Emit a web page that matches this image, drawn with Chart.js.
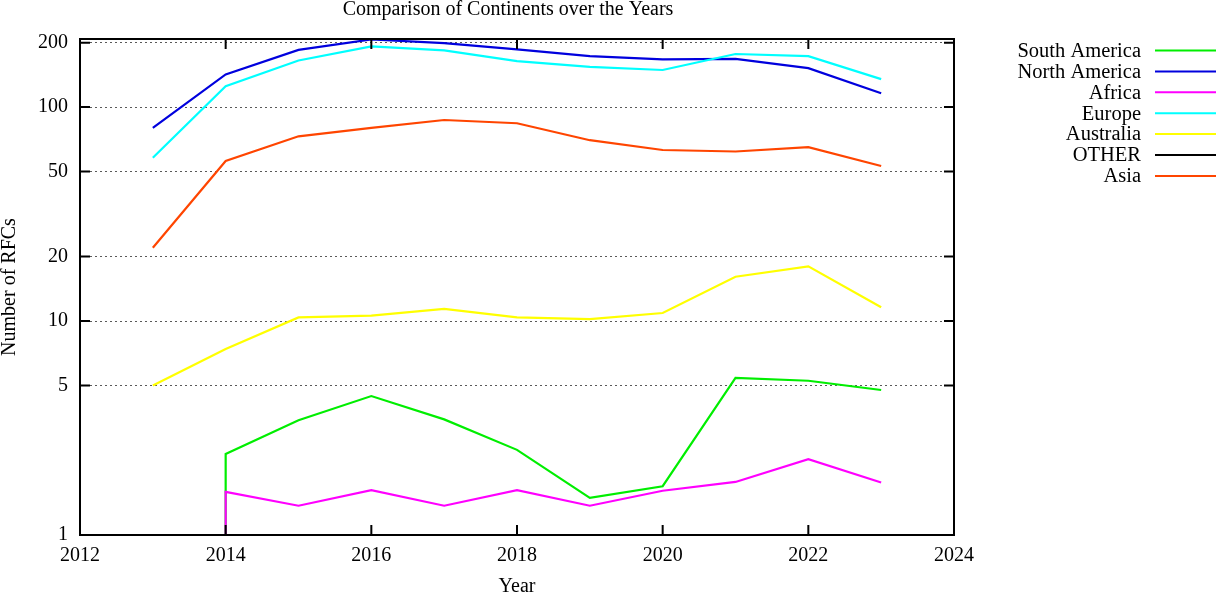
<!DOCTYPE html>
<html>
<head>
<meta charset="utf-8">
<title>Comparison of Continents over the Years</title>
<script src="https://cdn.jsdelivr.net/npm/chart.js@4.4.1/dist/chart.umd.min.js"></script>
<style>
    html, body { margin: 0; padding: 0; background: #fff; }
    canvas { display: block; }
</style>
</head>
<body>
<canvas id="rfcChart" width="1216" height="595"></canvas>
<script>
const years = [2013, 2014, 2015, 2016, 2017, 2018, 2019, 2020, 2021, 2022, 2023];

const southAmerica  = [null, 2.39, 3.44, 4.46, 3.47, 2.50, 1.49, 1.69, 5.42, 5.26, 4.76];
const northAmerica  = [80, 142, 185, 207, 199, 186, 173, 167, 168, 152, 116];
const africa        = [null, 1.59, 1.37, 1.62, 1.37, 1.62, 1.37, 1.61, 1.77, 2.26, 1.76];
const europe        = [58, 125, 165, 192, 184, 164, 154, 149, 177, 173, 135];
const australia     = [5, 7.4, 10.4, 10.6, 11.4, 10.4, 10.2, 10.9, 16.1, 18.0, 11.6];
const other         = [];
const asia          = [22, 56, 73, 80, 87, 84, 70, 63, 62, 65, 53];

// the green and magenta lines rise straight up from the floor at 2014
const leadInYear = 2014;
const southAmericaLeadIn = 1;
const africaLeadIn = 1;

const seriesNames = ['South America', 'North America', 'Africa', 'Europe', 'Australia', 'OTHER', 'Asia'];
const seriesColors = ['#00ee00', '#0000dd', '#ff00ff', '#00ffff', '#ffff00', '#000000', '#ff4500'];

const xTicks = [2012, 2014, 2016, 2018, 2020, 2022, 2024];
const yTicks = [1, 5, 10, 20, 50, 100, 200];
const yMax = 208;

const FONT = "'Liberation Serif', 'Times New Roman', serif";

function toPoints(values, leadIn) {
    const pts = [];
    if (leadIn != null) pts.push({ x: leadInYear, y: leadIn });
    values.forEach((v, i) => {
        if (v != null) pts.push({ x: years[i], y: v });
    });
    return pts;
}

const seriesValues = [southAmerica, northAmerica, africa, europe, australia, other, asia];
const leadIns = [southAmericaLeadIn, null, africaLeadIn, null, null, null, null];

const datasets = seriesNames.map((name, i) => ({
    label: name,
    data: toPoints(seriesValues[i], leadIns[i]),
    borderColor: seriesColors[i],
    backgroundColor: seriesColors[i],
    borderWidth: 2.2,
    pointRadius: 0,
    tension: 0,
    fill: false,
    // gnuplot draws later series on top
    order: seriesNames.length - i
}));

// border, inward tick marks, title and legend like gnuplot
const gnuplotFrame = {
    id: 'gnuplotFrame',
    afterDraw(chart) {
        const { ctx, chartArea: a, scales } = chart;
        ctx.save();
        ctx.strokeStyle = '#000';
        ctx.lineWidth = 2;
        ctx.setLineDash([]);

        const tickLen = 10;
        ctx.beginPath();
        xTicks.forEach(t => {
            const x = scales.x.getPixelForValue(t);
            ctx.moveTo(x, a.bottom); ctx.lineTo(x, a.bottom - tickLen);
            ctx.moveTo(x, a.top); ctx.lineTo(x, a.top + tickLen);
        });
        yTicks.forEach(t => {
            const y = scales.y.getPixelForValue(t);
            ctx.moveTo(a.left, y); ctx.lineTo(a.left + tickLen, y);
            ctx.moveTo(a.right, y); ctx.lineTo(a.right - tickLen, y);
        });
        ctx.stroke();
        ctx.strokeRect(a.left, a.top, a.right - a.left, a.bottom - a.top);

        ctx.fillStyle = '#000';
        ctx.font = '20px ' + FONT;
        ctx.textAlign = 'center';
        ctx.textBaseline = 'alphabetic';
        ctx.fillText('Comparison of Continents over the Years', 508, 15);

        ctx.font = '20.5px ' + FONT;
        ctx.textAlign = 'right';
        ctx.textBaseline = 'middle';
        chart.data.datasets.forEach((ds, i) => {
            const y = 50.5 + i * 20.9;
            ctx.fillText(ds.label, 1141, y + 1);
            ctx.strokeStyle = ds.borderColor;
            ctx.beginPath();
            ctx.moveTo(1155, y);
            ctx.lineTo(1216, y);
            ctx.stroke();
        });
        ctx.restore();
    }
};

new Chart(document.getElementById('rfcChart'), {
    type: 'line',
    data: { datasets },
    plugins: [gnuplotFrame],
    options: {
        responsive: false,
        animation: false,
        devicePixelRatio: 1,
        layout: { padding: { top: 39, right: 262, left: 0, bottom: 0 } },
        plugins: {
            legend: { display: false },
            title: { display: false },
            tooltip: { enabled: false }
        },
        scales: {
            x: {
                type: 'linear',
                min: 2012,
                max: 2024,
                afterBuildTicks: scale => { scale.ticks = xTicks.map(v => ({ value: v })); },
                afterFit: scale => { scale.height = 60; },
                grid: { display: false, drawTicks: false },
                border: { display: false },
                ticks: {
                    padding: 9,
                    color: '#000',
                    font: { family: FONT, size: 20 },
                    callback: v => String(v)
                },
                title: {
                    display: true,
                    text: 'Year',
                    color: '#000',
                    padding: 0,
                    font: { family: FONT, size: 20, lineHeight: 0.8 }
                }
            },
            y: {
                type: 'logarithmic',
                min: 1,
                max: yMax,
                afterBuildTicks: scale => { scale.ticks = yTicks.map(v => ({ value: v })); },
                afterFit: scale => { scale.width = 80; },
                grid: { color: 'rgba(0,0,0,0.65)', lineWidth: 1, drawTicks: false },
                border: { display: false, dash: [2, 3] },
                ticks: {
                    padding: 12,
                    color: '#000',
                    font: { family: FONT, size: 20 },
                    callback: v => String(v)
                },
                title: {
                    display: true,
                    text: 'Number of RFCs',
                    color: '#000',
                    padding: 0,
                    font: { family: FONT, size: 20, lineHeight: 1 }
                }
            }
        }
    }
});
</script>
</body>
</html>
